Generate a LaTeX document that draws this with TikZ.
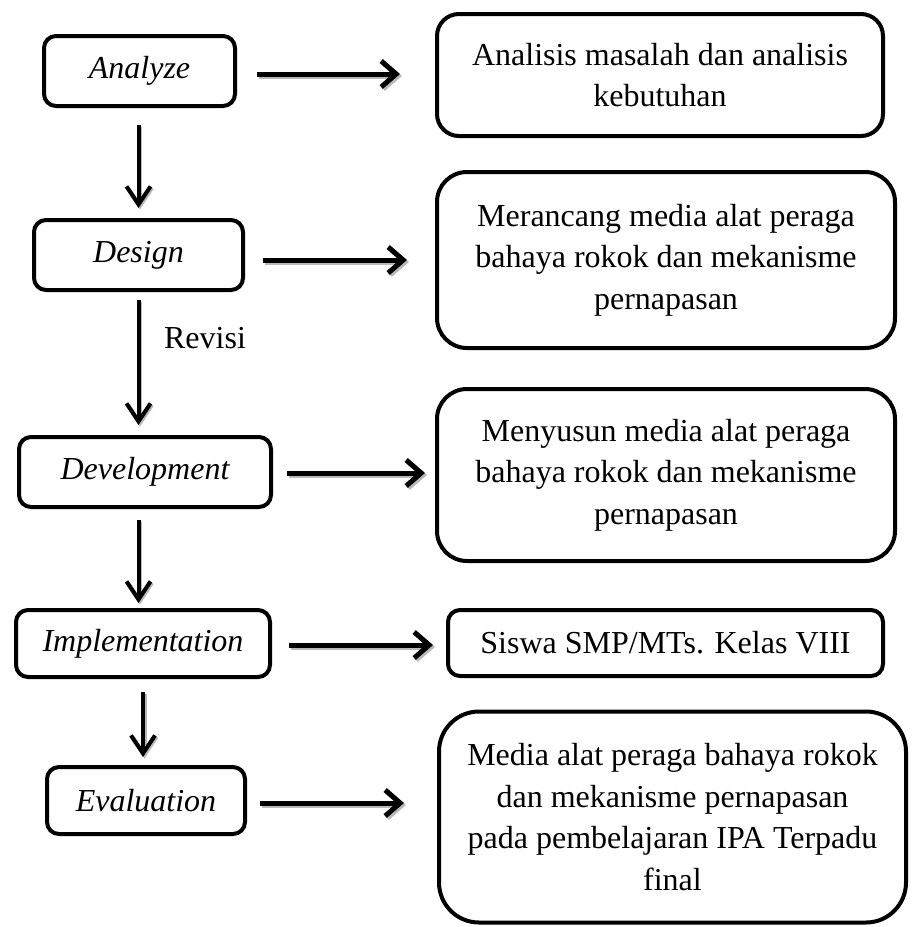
\documentclass[tikz,border=0pt]{standalone}
\usepackage{fontspec}
\setmainfont{Liberation Serif}
\usetikzlibrary{arrows.meta}
\begin{document}
\begin{tikzpicture}[x=1pt,y=-1pt,
  box/.style={draw, line width=4pt, rounded corners=#1, inner sep=0pt, align=center,
    font=\fontsize{32}{41.5}\selectfont},
  box/.default=12pt,
  lbox/.style={box, font=\fontsize{32}{41.5}\selectfont\itshape},
  htip/.style={-{Straight Barb[length=15pt,width=26pt]}},
  vtip/.style={-{Straight Barb[length=18pt,width=24pt]}},
  harrow/.style={line width=5pt, htip,
    preaction={draw=gray!55, line width=5pt, htip, transform canvas={shift={(2pt,-2pt)}}}},
  varrow/.style={line width=4pt, vtip,
    preaction={draw=gray!55, line width=4pt, vtip, transform canvas={shift={(1.5pt,-1.5pt)}}}},
  lbl/.style={font=\fontsize{32}{41.5}\selectfont, inner sep=0pt}
]
\useasboundingbox (0,0) rectangle (911,927);

% left column
\node[lbox, minimum width=191pt, minimum height=70pt] (an) at (139.5,71) {Analyze};
\node[lbox, minimum width=209pt, minimum height=70pt] (de) at (138.5,255) {Design};
\node[lbox, minimum width=252pt, minimum height=70pt] (dv) at (145,472) {Development};
\node[lbox, minimum width=254pt, minimum height=67pt] (im) at (143,643.5) {Implementation};
\node[lbox, minimum width=198pt, minimum height=67pt] (ev) at (146,800.5) {Evaluation};

% right column
\node[box=22pt, minimum width=446pt, minimum height=122pt] (ra) at (660,75)
  {Analisis masalah dan analisis\\kebutuhan};
\node[box=30pt, minimum width=458pt, minimum height=176pt] (rd) at (666,260)
  {Merancang media alat peraga\\bahaya rokok dan mekanisme\\pernapasan};
\node[box=30pt, minimum width=458pt, minimum height=172pt] (rv) at (666,475)
  {Menyusun media alat peraga\\bahaya rokok dan mekanisme\\pernapasan};
\node[box=12pt, minimum width=435pt, minimum height=66pt] (ri) at (665.5,643)
  {Siswa SMP/MTs. Kelas VIII};
\node[box=40pt, minimum width=467pt, minimum height=211pt] (re) at (672.5,817)
  {Media alat peraga bahaya rokok\\dan mekanisme pernapasan\\pada pembelajaran IPA Terpadu\\final};

% label
\node[lbl] (rev) at (205,338) {Revisi};

% horizontal arrows
\draw[harrow, shorten <=20pt, shorten >=35pt] (an.east |- 0,74) -- (ra.west |- 0,74);
\draw[harrow, shorten <=18pt, shorten >=28pt] (de.east |- 0,260) -- (rd.west |- 0,260);
\draw[harrow, shorten <=14pt, shorten >=10pt] (dv.east |- 0,473) -- (rv.west |- 0,473);
\draw[harrow, shorten <=17pt, shorten >=13pt] (im.east |- 0,645) -- (ri.west |- 0,645);
\draw[harrow, shorten <=13pt, shorten >=33pt] (ev.east |- 0,803) -- (re.west |- 0,803);

% vertical arrows
\draw[varrow, shorten <=17pt, shorten >=10pt] (an.south -| de.center) -- (de.north);
\draw[varrow, shorten <=8pt, shorten >=10pt] (de.south) -- (de.south |- dv.north);
\draw[varrow, shorten <=11pt, shorten >=5pt] (dv.south -| de.center) -- (de.center |- im.north);
\draw[varrow, shorten <=13pt, shorten >=8pt] (im.south) -- (im.south |- ev.north);
\end{tikzpicture}
\end{document}
